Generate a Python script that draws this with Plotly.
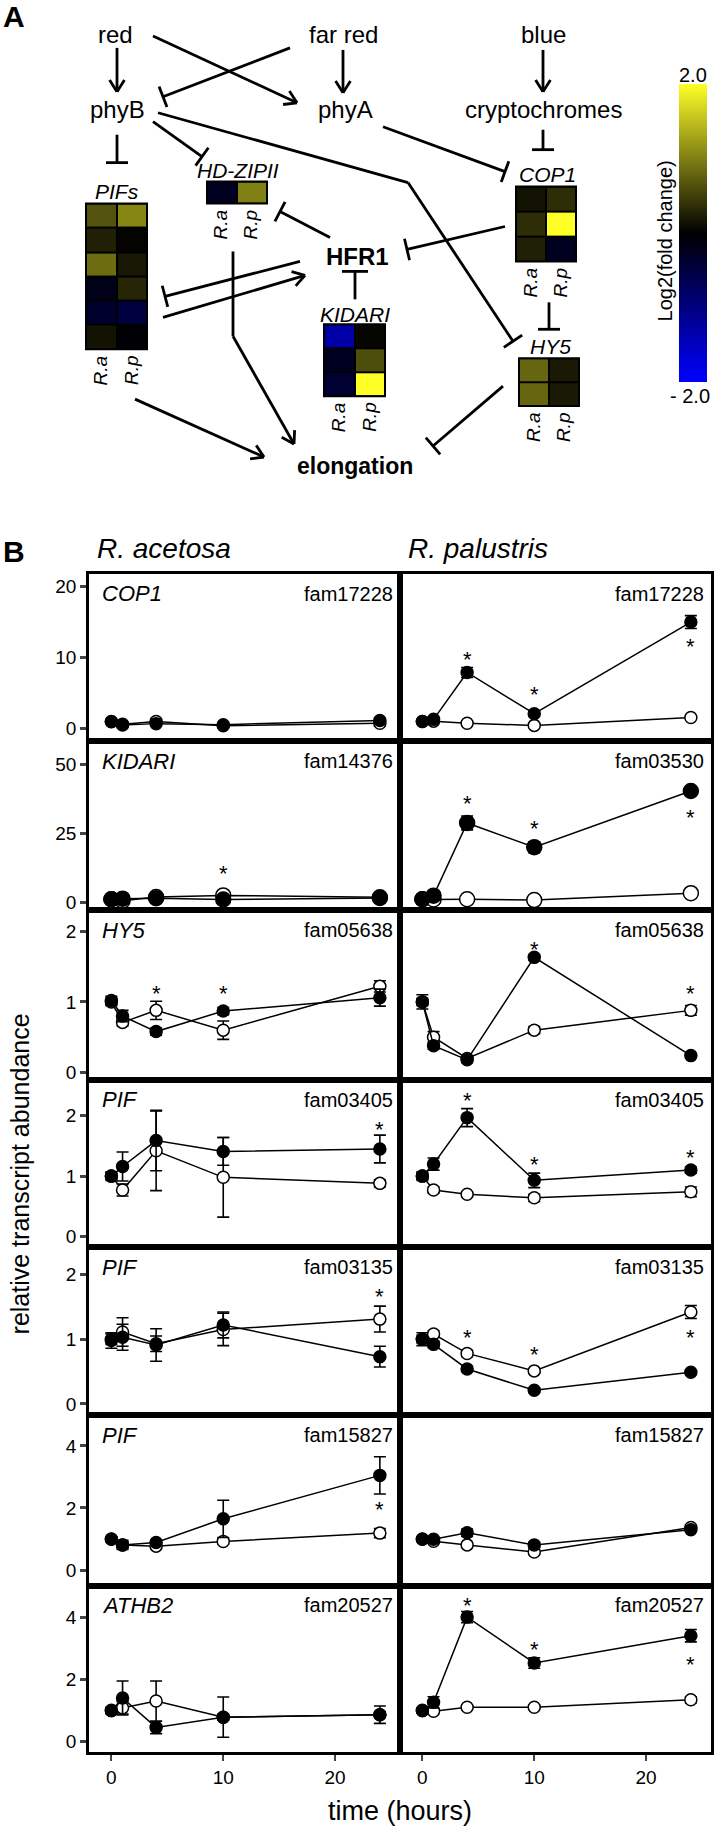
import math
import plotly.graph_objects as go

W, H = 717, 1833
def PX(x): return x / W
def PY(y): return 1 - y / H

# ---------------- Panel B data ----------------
times = [0, 1, 4, 10, 24]
x_ticks = [0, 10, 20]
gene_names = ["COP1", "KIDARI", "HY5", "PIF", "PIF", "PIF", "ATHB2"]
fam_ra = ["fam17228", "fam14376", "fam05638", "fam03405", "fam03135", "fam15827", "fam20527"]
fam_rp = ["fam17228", "fam03530", "fam05638", "fam03405", "fam03135", "fam15827", "fam20527"]
y_ticks = [[0, 10, 20], [0, 25, 50], [0, 1, 2], [0, 1, 2], [0, 1, 2], [0, 2, 4], [0, 2, 4]]
y_ranges = [[-1.8, 21.8], [-2.9, 58.3], [-0.1, 2.3], [-0.18, 2.6], [-0.17, 2.42], [-0.5, 5.0], [-0.35, 5.03]]

# R. acetosa, filled (black) series and error
ra_fill = [
    [0.95, 0.5, 0.7, 0.55, 1.15],
    [1.0, 1.2, 1.4, 0.9, 1.5],
    [1.02, 0.8, 0.58, 0.87, 1.06],
    [1.0, 1.16, 1.59, 1.41, 1.45],
    [0.98, 1.03, 0.91, 1.22, 0.73],
    [0.99, 0.81, 0.89, 1.65, 3.05],
    [0.99, 1.4, 0.45, 0.78, 0.86],
]
ra_fill_err = [
    [0.3, 0.2, 0.3, 0.3, 0.3],
    [0.3, 0.3, 0.4, 0.3, 0.4],
    [0.06, 0.08, 0.05, 0.05, 0.12],
    [0.07, 0.24, 0.5, 0.23, 0.23],
    [0.12, 0.2, 0.25, 0.2, 0.16],
    [0.08, 0.15, 0.08, 0.6, 0.6],
    [0.1, 0.55, 0.2, 0.65, 0.28],
]
# R. acetosa, open (white) series and error
ra_open = [
    [1.0, 0.6, 1.0, 0.4, 0.75],
    [1.0, 0.5, 1.8, 2.4, 1.7],
    [1.0, 0.71, 0.88, 0.6, 1.22],
    [1.0, 0.77, 1.42, 0.98, 0.88],
    [1.0, 1.11, 0.93, 1.15, 1.31],
    [1.0, 0.81, 0.77, 0.92, 1.19],
    [1.0, 1.08, 1.3, 0.78, 0.86],
]
ra_open_err = [
    [0.2, 0.3, 0.4, 0.3, 0.4],
    [0.2, 0.3, 0.3, 0.4, 0.3],
    [0.05, 0.05, 0.13, 0.13, 0.08],
    [0.05, 0.1, 0.66, 0.66, 0.06],
    [0.08, 0.22, 0.12, 0.25, 0.2],
    [0.05, 0.1, 0.08, 0.08, 0.15],
    [0.1, 0.2, 0.65, 0.1, 0.1],
]
# R. palustris
rp_fill = [
    [1.0, 1.3, 7.9, 2.1, 15.0],
    [1.0, 2.3, 28.7, 19.9, 40.3],
    [1.0, 0.38, 0.18, 1.63, 0.24],
    [1.0, 1.2, 1.97, 0.93, 1.1],
    [1.0, 0.92, 0.54, 0.21, 0.49],
    [0.99, 0.99, 1.2, 0.81, 1.3],
    [0.99, 1.26, 4.01, 2.53, 3.41],
]
rp_fill_err = [
    [0.2, 0.3, 0.7, 0.4, 0.9],
    [0.5, 0.5, 2.5, 2.0, 1.5],
    [0.1, 0.05, 0.04, 0.04, 0.03],
    [0.07, 0.1, 0.15, 0.12, 0.05],
    [0.1, 0.05, 0.04, 0.03, 0.03],
    [0.05, 0.05, 0.12, 0.08, 0.05],
    [0.08, 0.18, 0.18, 0.17, 0.2],
]
rp_open = [
    [1.0, 1.05, 0.75, 0.45, 1.55],
    [1.0, 0.9, 1.0, 0.7, 3.2],
    [1.0, 0.5, 0.2, 0.6, 0.88],
    [1.0, 0.77, 0.7, 0.64, 0.74],
    [1.0, 1.08, 0.78, 0.51, 1.42],
    [1.0, 0.93, 0.81, 0.58, 1.37],
    [1.0, 0.97, 1.1, 1.1, 1.34],
]
rp_open_err = [
    [0.1, 0.1, 0.1, 0.1, 0.2],
    [0.2, 0.2, 0.2, 0.2, 0.3],
    [0.05, 0.08, 0.04, 0.05, 0.07],
    [0.05, 0.05, 0.04, 0.06, 0.08],
    [0.06, 0.05, 0.05, 0.03, 0.1],
    [0.05, 0.05, 0.06, 0.05, 0.06],
    [0.05, 0.05, 0.06, 0.06, 0.1],
]
# significance asterisks (time, value)
stars_ra = [[], [(10, 12.4)], [(4, 1.2), (10, 1.2)], [(24, 1.88)], [(24, 1.75)], [(24, 2.15)], []]
stars_rp = [[(4, 10.6), (10, 5.6), (24, 12.4)], [(4, 38), (10, 29), (24, 33)],
            [(10, 1.83), (24, 1.2)], [(4, 2.35), (10, 1.3), (24, 1.4)],
            [(4, 1.12), (10, 0.85), (24, 1.12)], [], [(4, 4.57), (10, 3.17), (24, 2.69)]]

# ---------------- Panel A heatmap data (log2 fold change) ----------------
heat_cols = ["R.a", "R.p"]
pifs_lfc = [[0.65, 1.05], [0.25, 0.02], [0.85, 0.18], [-0.2, 0.3], [-0.35, -0.5], [0.15, -0.03]]
hdzip_lfc = [[-0.25, 1.0]]
cop1_lfc = [[0.15, 0.35], [0.35, 2.0], [0.25, -0.25]]
kidari_lfc = [[-1.3, 0.05], [-0.25, 0.6], [-0.4, 2.0]]
hy5_lfc = [[0.8, 0.2], [0.8, 0.2]]

NARROW = "Liberation Sans Narrow, Arial Narrow, Liberation Sans, Arial"
SANS = "Liberation Sans, Arial"

fig = go.Figure()
layout = dict(width=W, height=H, margin=dict(l=0, r=0, t=0, b=0),
              plot_bgcolor="white", paper_bgcolor="white", showlegend=False)
annotations = []
shapes = []

# ---------------- Panel B subplots ----------------
col_px = [(89, 400), (400, 711)]
row_px = [575, 743, 912, 1082, 1250, 1418, 1589, 1756]

def axname(k, a):
    return a + ("" if k == 1 else str(k))

for r in range(7):
    for c in range(2):
        k = 2 * r + c + 1
        xa, ya = axname(k, "x"), axname(k, "y")
        xd = [PX(col_px[c][0]), PX(col_px[c][1])]
        yd = [PY(row_px[r + 1]), PY(row_px[r])]
        layout[axname(k, "xaxis")] = dict(
            domain=xd, anchor=ya, range=[-2.0, 25.8], showline=True, mirror=True,
            linewidth=2.6, linecolor="black", showgrid=False, zeroline=False,
            tickvals=x_ticks, ticks="outside" if r == 6 else "", ticklen=6, tickwidth=2,
            showticklabels=(r == 6), tickfont=dict(family=NARROW, size=19, color="black"))
        layout[axname(k, "yaxis")] = dict(
            domain=yd, anchor=xa, range=y_ranges[r], showline=True, mirror=True,
            linewidth=2.6, linecolor="black", showgrid=False, zeroline=False,
            tickvals=y_ticks[r], ticks="outside" if c == 0 else "", ticklen=6, tickwidth=2.5,
            showticklabels=(c == 0), tickfont=dict(family=NARROW, size=19, color="black"))
        if c == 0:
            fy, fe, oy, oe, stars = ra_fill[r], ra_fill_err[r], ra_open[r], ra_open_err[r], stars_ra[r]
        else:
            fy, fe, oy, oe, stars = rp_fill[r], rp_fill_err[r], rp_open[r], rp_open_err[r], stars_rp[r]
        msize = 15 if r == 1 else 12
        fig.add_trace(go.Scatter(
            x=times, y=oy, xaxis=xa, yaxis=ya, mode="lines+markers",
            line=dict(color="black", width=1.5),
            marker=dict(size=msize, color="white", line=dict(color="black", width=1.5)),
            error_y=dict(type="data", array=oe, color="black", thickness=1.6, width=6)))
        fig.add_trace(go.Scatter(
            x=times, y=fy, xaxis=xa, yaxis=ya, mode="lines+markers",
            line=dict(color="black", width=1.5),
            marker=dict(size=msize, color="black", line=dict(color="black", width=1.5)),
            error_y=dict(type="data", array=fe, color="black", thickness=1.6, width=6)))
        for (t, v) in stars:
            annotations.append(dict(x=t, y=v, xref=xa, yref=ya, text="*", showarrow=False,
                                    xanchor="center", yanchor="middle",
                                    font=dict(family=SANS, size=22, color="black"), yshift=-6))
        if c == 0:
            annotations.append(dict(x=0.035, y=1 - 20 / 168, xref=xa + " domain", yref=ya + " domain",
                                    text="<i>%s</i>" % gene_names[r], showarrow=False, xanchor="left",
                                    yanchor="middle", font=dict(family=NARROW, size=22, color="black")))
        fam = fam_ra[r] if c == 0 else fam_rp[r]
        annotations.append(dict(x=0.985, y=1 - 20 / 168, xref=xa + " domain", yref=ya + " domain",
                                text=fam, showarrow=False, xanchor="right", yanchor="middle",
                                font=dict(family=NARROW, size=20, color="black")))

def label(x, y, text, size=24, family=SANS, angle=0):
    annotations.append(dict(x=PX(x), y=PY(y), xref="paper", yref="paper", text=text, showarrow=False,
                            xanchor="center", yanchor="middle", textangle=angle,
                            font=dict(family=family, size=size, color="black")))

# Panel B texts
label(14, 553, "<b>B</b>", 30)
label(164, 550, "<i>R. acetosa</i>", 28, NARROW)
label(478, 550, "<i>R. palustris</i>", 28, NARROW)
label(20, 1177, "relative transcript abundance", 25, SANS, -90)
label(400, 1815, "time (hours)", 27)

# ---------------- Panel A heatmaps ----------------
heatmaps = [
    (pifs_lfc, (86, 147, 204, 350)),
    (hdzip_lfc, (207, 267, 182, 204)),
    (cop1_lfc, (516, 576, 187, 262)),
    (kidari_lfc, (324, 385, 325, 397)),
    (hy5_lfc, (519, 579, 359, 407)),
]
for i, (z, (x0, x1, y0, y1)) in enumerate(heatmaps):
    k = 15 + i
    xa, ya = "x%d" % k, "y%d" % k
    rows = list(range(len(z)))
    fig.add_trace(go.Heatmap(z=z, x=heat_cols, y=rows, xaxis=xa, yaxis=ya, coloraxis="coloraxis",
                             xgap=2, ygap=2, hoverinfo="skip"))
    layout["xaxis%d" % k] = dict(domain=[PX(x0), PX(x1)], anchor=ya, showticklabels=False, ticks="",
                                 showgrid=False, zeroline=False, showline=False, fixedrange=True)
    layout["yaxis%d" % k] = dict(domain=[PY(y1), PY(y0)], anchor=xa, showticklabels=False, ticks="",
                                 showgrid=False, zeroline=False, showline=False, autorange="reversed",
                                 fixedrange=True)
    shapes.append(dict(type="rect", xref=xa + " domain", yref=ya + " domain", x0=0, x1=1, y0=0, y1=1,
                       fillcolor="black", line=dict(width=0), layer="below"))
    shapes.append(dict(type="rect", xref=xa + " domain", yref=ya + " domain", x0=0, x1=1, y0=0, y1=1,
                       fillcolor="rgba(0,0,0,0)", line=dict(color="black", width=2), layer="above"))
    cw = (x1 - x0) / 2
    for j, lab in enumerate(heat_cols):
        annotations.append(dict(x=PX(x0 + cw * (j + 0.5) - 1), y=PY(y1 + 4), xref="paper", yref="paper",
                                text="<i>%s</i>" % lab, textangle=-90, showarrow=False,
                                xanchor="center", yanchor="top",
                                font=dict(family=SANS, size=19, color="black")))

layout["coloraxis"] = dict(
    cmin=-2, cmax=2,
    colorscale=[[0, "rgb(0,0,255)"], [0.5, "rgb(0,0,0)"], [1, "rgb(255,255,40)"]],
    colorbar=dict(x=PX(679), xanchor="left", xref="paper", y=PY(234), yanchor="middle", yref="paper",
                  thickness=28, thicknessmode="pixels", len=298, lenmode="pixels",
                  showticklabels=False, ticks="", outlinewidth=0, xpad=0, ypad=0))

# ---------------- Panel A diagram ----------------
LW = 2.8
def seg(x0, y0, x1, y1, w=LW):
    shapes.append(dict(type="line", xref="paper", yref="paper", x0=PX(x0), y0=PY(y0),
                       x1=PX(x1), y1=PY(y1), line=dict(color="black", width=w)))

def path(pts):
    for a, b in zip(pts[:-1], pts[1:]):
        seg(a[0], a[1], b[0], b[1])

def arrow(pts, L=14, ang=32):
    path(pts)
    (x0, y0), (x1, y1) = pts[-2], pts[-1]
    d = math.hypot(x1 - x0, y1 - y0)
    ux, uy = (x1 - x0) / d, (y1 - y0) / d
    for s in (1, -1):
        a = math.radians(ang) * s
        vx = ux * math.cos(a) - uy * math.sin(a)
        vy = ux * math.sin(a) + uy * math.cos(a)
        seg(x1, y1, x1 - L * vx, y1 - L * vy)

def inhibit(pts, half=11):
    path(pts)
    (x0, y0), (x1, y1) = pts[-2], pts[-1]
    d = math.hypot(x1 - x0, y1 - y0)
    ux, uy = (x1 - x0) / d, (y1 - y0) / d
    px_, py_ = -uy, ux
    seg(x1 + half * px_, y1 + half * py_, x1 - half * px_, y1 - half * py_)

arrow([(117, 48), (117, 92)])
arrow([(153, 36), (297, 103)])
arrow([(343, 50), (343, 93)])
arrow([(543, 50), (543, 92)])
arrow([(163, 318), (305, 276)])
arrow([(135, 400), (264, 458)])
arrow([(233, 252), (233, 337), (294, 445)])

inhibit([(290, 48), (163, 97)])
inhibit([(117, 135), (117, 163)])
inhibit([(153, 122), (202, 157)])
inhibit([(158, 113), (408, 183), (513, 342)])
inhibit([(383, 127), (505, 172)])
inhibit([(543, 130), (543, 150)])
inhibit([(330, 238), (280, 212)])
inhibit([(300, 262), (165, 297)])
inhibit([(355, 300), (355, 272)], half=13)
inhibit([(505, 227), (407, 250)])
inhibit([(549, 303), (549, 330)])
inhibit([(503, 387), (433, 447)])

label(14, 17, "<b>A</b>", 30)
label(115, 35, "red")
label(343, 35, "far red")
label(543, 35, "blue")
label(117, 110, "phyB")
label(345, 110, "phyA")
label(543, 110, "cryptochromes")
label(117, 192, "<i>PIFs</i>", 21)
label(238, 171, "<i>HD-ZIPII</i>", 21)
label(547, 175, "<i>COP1</i>", 21)
label(355, 315, "<i>KIDARI</i>", 21)
label(550, 347, "<i>HY5</i>", 21)
label(357, 257, "<b>HFR1</b>", 24)
label(355, 467, "<b>elongation</b>", 23)
label(693, 75, "2.0", 20)
label(690, 397, "- 2.0", 20)
label(665, 242, "Log2(fold change)", 20, SANS, -90)

layout["annotations"] = annotations
layout["shapes"] = shapes
fig.update_layout(**layout)
fig.write_html("out.html", config={"displayModeBar": False},
               post_script="document.body.style.margin='0px';document.body.style.overflow='hidden';")
